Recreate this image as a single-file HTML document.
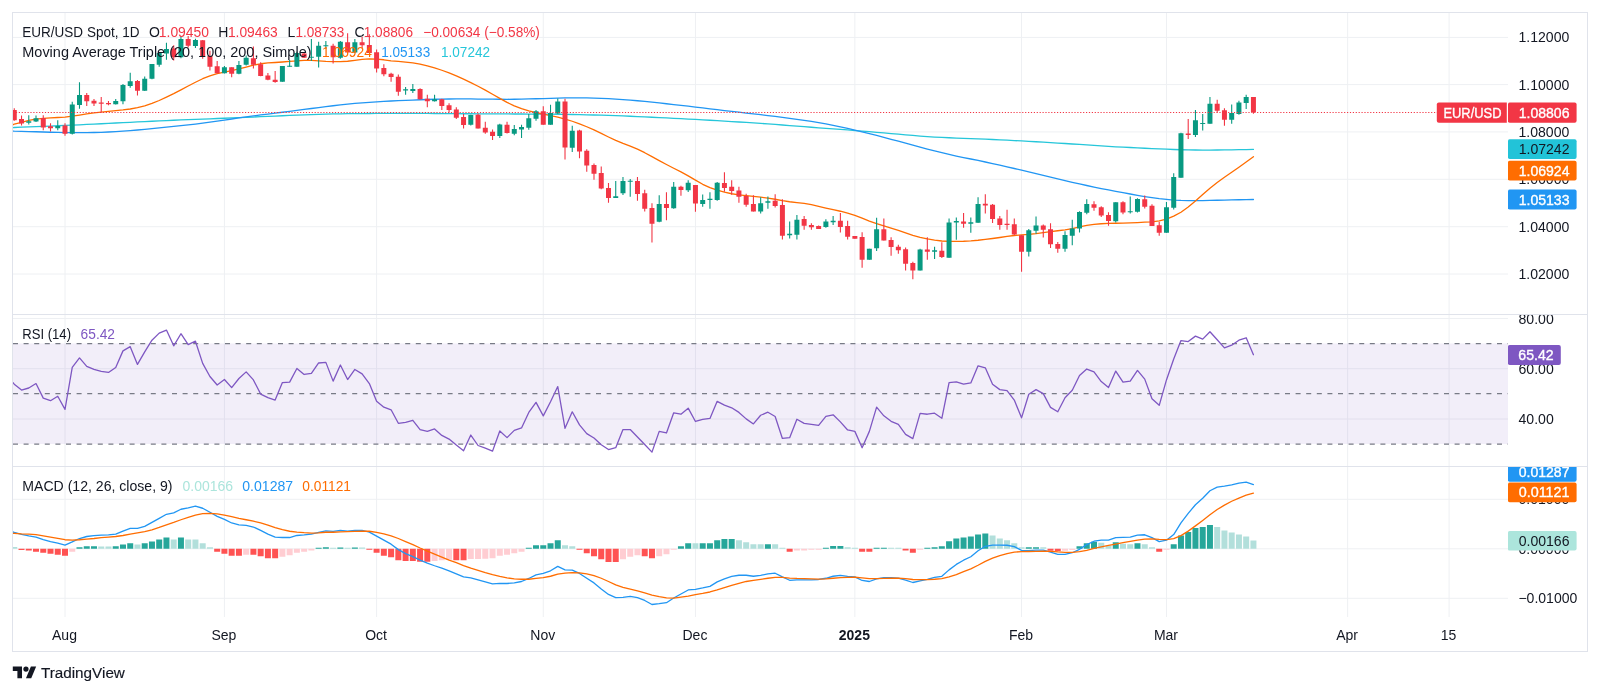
<!DOCTYPE html>
<html lang="en"><head><meta charset="utf-8"><title>EUR/USD Spot chart</title>
<style>
html,body{margin:0;padding:0;background:#fff;}
body{width:1600px;height:694px;overflow:hidden;font-family:"Liberation Sans",sans-serif;}
svg{display:block;will-change:transform;opacity:.9999;}
text{white-space:pre;}
</style></head><body>
<svg width="1600" height="694" viewBox="0 0 1600 694" font-family='"Liberation Sans", sans-serif' font-size="14">
<rect width="1600" height="694" fill="#fff"/>
<defs>
<clipPath id="cm"><rect x="13" y="13" width="1495" height="301.5"/></clipPath>
<clipPath id="cr"><rect x="13" y="315" width="1495" height="151"/></clipPath>
<clipPath id="cd"><rect x="13" y="467" width="1495" height="150"/></clipPath>
<clipPath id="am"><rect x="1508" y="13" width="79.5" height="301.5"/></clipPath>
<clipPath id="ar"><rect x="1508" y="315" width="79.5" height="151.5"/></clipPath>
<clipPath id="ad"><rect x="1508" y="467" width="79.5" height="150"/></clipPath>
</defs>
<path d="M65 13V617M224.42 13V617M376.6 13V617M543.27 13V617M695.45 13V617M854.87 13V617M1021.54 13V617M1166.47 13V617M1347.63 13V617M1449.08 13V617M13 37.4H1508M13 84.6H1508M13 131.9H1508M13 179.3H1508M13 226.7H1508M13 274H1508M13 318.5H1508M13 368.7H1508M13 419H1508M13 499.3H1508M13 548.8H1508M13 598.3H1508" stroke="#eef0f3" stroke-width="1" fill="none"/>
<g clip-path="url(#cm)">
<polyline points="12,127.81 14.27,127.49 21.52,127.21 28.77,126.96 36.01,126.68 43.26,126.37 50.51,126.06 57.75,125.77 65,125.47 72.25,125.16 79.49,124.83 86.74,124.47 93.99,124.11 101.23,123.75 108.48,123.38 115.73,123.02 122.97,122.66 130.22,122.3 137.47,121.93 144.71,121.58 151.96,121.24 159.2,120.9 166.45,120.58 173.7,120.27 180.94,119.97 188.19,119.67 195.44,119.39 202.68,119.1 209.93,118.81 217.18,118.52 224.42,118.23 231.67,117.94 238.92,117.65 246.16,117.35 253.41,117.04 260.66,116.71 267.9,116.39 275.15,116.06 282.39,115.74 289.64,115.41 296.89,115.11 304.13,114.82 311.38,114.56 318.63,114.33 325.87,114.12 333.12,113.95 340.37,113.81 347.61,113.7 354.86,113.62 362.11,113.57 369.35,113.52 376.6,113.46 383.85,113.41 391.09,113.38 398.34,113.36 405.59,113.35 412.83,113.35 420.08,113.38 427.32,113.44 434.57,113.51 441.82,113.57 449.06,113.63 456.31,113.68 463.56,113.73 470.8,113.77 478.05,113.81 485.3,113.84 492.54,113.88 499.79,113.92 507.04,113.95 514.28,113.99 521.53,114.02 528.78,114.06 536.02,114.1 543.27,114.15 550.52,114.2 557.76,114.27 565.01,114.36 572.25,114.48 579.5,114.63 586.75,114.8 593.99,114.98 601.24,115.19 608.49,115.42 615.73,115.67 622.98,115.94 630.23,116.24 637.47,116.55 644.72,116.88 651.97,117.24 659.21,117.6 666.46,117.96 673.71,118.32 680.95,118.69 688.2,119.06 695.45,119.45 702.69,119.85 709.94,120.25 717.19,120.67 724.43,121.1 731.68,121.53 738.92,121.98 746.17,122.44 753.42,122.91 760.66,123.4 767.91,123.91 775.16,124.45 782.4,125 789.65,125.56 796.9,126.12 804.14,126.69 811.39,127.24 818.64,127.79 825.88,128.33 833.13,128.88 840.38,129.42 847.62,129.97 854.87,130.53 862.12,131.1 869.36,131.68 876.61,132.28 883.85,132.91 891.1,133.55 898.35,134.2 905.59,134.83 912.84,135.45 920.09,136.06 927.33,136.59 934.58,137.05 941.83,137.43 949.07,137.77 956.32,138.08 963.57,138.36 970.81,138.62 978.06,138.9 985.31,139.2 992.55,139.52 999.8,139.86 1007.05,140.2 1014.29,140.56 1021.54,140.93 1028.78,141.32 1036.03,141.73 1043.28,142.16 1050.52,142.6 1057.77,143.05 1065.02,143.52 1072.26,143.99 1079.51,144.46 1086.76,144.93 1094,145.4 1101.25,145.88 1108.5,146.36 1115.74,146.84 1122.99,147.17 1130.24,147.52 1137.48,147.89 1144.73,148.26 1151.98,148.6 1159.22,148.9 1166.47,149.15 1173.71,149.48 1180.96,149.74 1188.21,149.91 1195.45,149.99 1202.7,150.04 1209.95,150.05 1217.19,150.02 1224.44,149.95 1231.69,149.85 1238.93,149.72 1246.18,149.56 1253.43,149.39" fill="none" stroke="#26c6da" stroke-width="1.3" stroke-linejoin="round" stroke-linecap="round"/>
<polyline points="12,131.07 14.27,131.2 21.52,131.35 28.77,131.54 36.01,131.77 43.26,132.02 50.51,132.24 57.75,132.43 65,132.58 72.25,132.66 79.49,132.68 86.74,132.63 93.99,132.5 101.23,132.28 108.48,131.99 115.73,131.63 122.97,131.17 130.22,130.63 137.47,130 144.71,129.33 151.96,128.64 159.2,127.93 166.45,127.2 173.7,126.45 180.94,125.67 188.19,124.88 195.44,124.03 202.68,123.11 209.93,122.14 217.18,121.11 224.42,120.07 231.67,119.01 238.92,117.92 246.16,116.89 253.41,115.9 260.66,114.97 267.9,114.06 275.15,113.15 282.39,112.25 289.64,111.34 296.89,110.41 304.13,109.47 311.38,108.5 318.63,107.54 325.87,106.63 333.12,105.76 340.37,104.93 347.61,104.16 354.86,103.45 362.11,102.84 369.35,102.3 376.6,101.81 383.85,101.38 391.09,101 398.34,100.66 405.59,100.33 412.83,100.03 420.08,99.74 427.32,99.49 434.57,99.27 441.82,99.12 449.06,99.01 456.31,98.95 463.56,98.94 470.8,98.96 478.05,99.03 485.3,99.1 492.54,99.17 499.79,99.24 507.04,99.28 514.28,99.25 521.53,99.14 528.78,98.97 536.02,98.77 543.27,98.55 550.52,98.3 557.76,98.09 565.01,97.95 572.25,97.88 579.5,97.88 586.75,97.96 593.99,98.11 601.24,98.33 608.49,98.64 615.73,99.04 622.98,99.54 630.23,100.13 637.47,100.76 644.72,101.45 651.97,102.19 659.21,102.96 666.46,103.74 673.71,104.53 680.95,105.33 688.2,106.17 695.45,107.03 702.69,107.93 709.94,108.82 717.19,109.69 724.43,110.54 731.68,111.37 738.92,112.21 746.17,113.04 753.42,113.88 760.66,114.71 767.91,115.54 775.16,116.42 782.4,117.34 789.65,118.29 796.9,119.27 804.14,120.3 811.39,121.41 818.64,122.6 825.88,123.9 833.13,125.31 840.38,126.82 847.62,128.41 854.87,130.08 862.12,131.82 869.36,133.64 876.61,135.48 883.85,137.36 891.1,139.27 898.35,141.2 905.59,143.15 912.84,145.13 920.09,147.11 927.33,149.03 934.58,150.89 941.83,152.68 949.07,154.39 956.32,156.01 963.57,157.53 970.81,158.99 978.06,160.48 985.31,162 992.55,163.55 999.8,165.15 1007.05,166.8 1014.29,168.5 1021.54,170.24 1028.78,171.98 1036.03,173.72 1043.28,175.46 1050.52,177.19 1057.77,178.91 1065.02,180.62 1072.26,182.3 1079.51,183.93 1086.76,185.51 1094,187.03 1101.25,188.52 1108.5,189.96 1115.74,191.35 1122.99,192.69 1130.24,194 1137.48,195.31 1144.73,196.56 1151.98,197.68 1159.22,198.65 1166.47,199.43 1173.71,200.05 1180.96,200.46 1188.21,200.64 1195.45,200.63 1202.7,200.54 1209.95,200.4 1217.19,200.24 1224.44,200.06 1231.69,199.89 1238.93,199.75 1246.18,199.61 1253.43,199.48" fill="none" stroke="#2196f3" stroke-width="1.3" stroke-linejoin="round" stroke-linecap="round"/>
<polyline points="12,125.3 14.27,124.01 21.52,122.34 28.77,120.39 36.01,119.15 43.26,118.28 50.51,117.81 57.75,117.52 65,117.07 72.25,116.2 79.49,115.05 86.74,113.88 93.99,112.89 101.23,112.03 108.48,111.29 115.73,110.63 122.97,109.9 130.22,109 137.47,107.68 144.71,105.92 151.96,103.45 159.2,100.52 166.45,97.12 173.7,93.6 180.94,89.85 188.19,85.98 195.44,82.23 202.68,78.72 209.93,75.85 217.18,73.64 224.42,72.09 231.67,70.68 238.92,68.99 246.16,67.05 253.41,65.13 260.66,63.77 267.9,62.93 275.15,62.49 282.39,62.01 289.64,61.43 296.89,60.86 304.13,60.42 311.38,60.46 318.63,60.81 325.87,61.35 333.12,61.68 340.37,61.72 347.61,61.24 354.86,60.41 362.11,59.42 369.35,58.91 376.6,59.05 383.85,59.77 391.09,60.78 398.34,61.46 405.59,62.06 412.83,62.8 420.08,64.09 427.32,65.86 434.57,67.92 441.82,70.25 449.06,72.92 456.31,75.92 463.56,79.21 470.8,82.61 478.05,86.22 485.3,90.11 492.54,94.26 499.79,98.42 507.04,102.41 514.28,105.81 521.53,108.64 528.78,110.85 536.02,112.67 543.27,114.23 550.52,115.68 557.76,117.21 565.01,119.03 572.25,121.25 579.5,123.86 586.75,126.75 593.99,129.85 601.24,133.34 608.49,136.98 615.73,140.44 622.98,143.45 630.23,146.12 637.47,149.18 644.72,152.7 651.97,156.65 659.21,160.6 666.46,164.52 673.71,168.29 680.95,171.88 688.2,175.83 695.45,180.13 702.69,184.29 709.94,187.61 717.19,190.15 724.43,192.18 731.68,193.74 738.92,194.82 746.17,195.68 753.42,196.41 760.66,197.19 767.91,198.07 775.16,199.25 782.4,200.67 789.65,201.76 796.9,202.58 804.14,203.35 811.39,204.66 818.64,206.33 825.88,208.03 833.13,209.66 840.38,211.24 847.62,213.03 854.87,215.4 862.12,218.14 869.36,221.03 876.61,223.6 883.85,225.94 891.1,228.14 898.35,230.4 905.59,232.91 912.84,235.34 920.09,237.45 927.33,238.98 934.58,240.19 941.83,241.01 949.07,241.45 956.32,241.46 963.57,241.24 970.81,240.86 978.06,240.25 985.31,239.44 992.55,238.49 999.8,237.51 1007.05,236.41 1014.29,235.49 1021.54,234.86 1028.78,234.33 1036.03,233.58 1043.28,232.57 1050.52,231.61 1057.77,230.75 1065.02,229.78 1072.26,228.58 1079.51,226.99 1086.76,225.45 1094,224.32 1101.25,223.73 1108.5,223.44 1115.74,223.24 1122.99,223.09 1130.24,222.82 1137.48,222.55 1144.73,222.13 1151.98,221.82 1159.22,220.79 1166.47,219.06 1173.71,216.12 1180.96,212.22 1188.21,207.04 1195.45,200.98 1202.7,194.49 1209.95,188.19 1217.19,182.49 1224.44,177.29 1231.69,172.32 1238.93,167.19 1246.18,161.94 1253.43,156.71" fill="none" stroke="#ff6d00" stroke-width="1.3" stroke-linejoin="round" stroke-linecap="round"/>
<path d="M28.77 115.26V124.61M36.01 115.58V121.92M57.75 120.33V130.32M72.25 101.79V134.6M79.49 82.3V108.76M115.73 98.94V104.48M122.97 83.88V104.17M130.22 72.79V87.84M144.71 76.43V91.01M151.96 64.07V79.13M159.2 52.15V66.67M166.45 42.79V59.83M180.94 36.7V58.24M195.44 38.86V47.94M224.42 66.01V73.5M238.92 61.05V74.16M246.16 55.43V65.45M282.39 66.01V81.84M289.64 60.11V66.67M296.89 51.69V66.67M311.38 39.04V61.05M318.63 41.85V67.6M325.87 41.1V48.88M340.37 40.92V58.71M354.86 39.04V52.9M405.59 86.94V94.87M412.83 84.09V92.96M434.57 94.87V101.52M470.8 114.68V125.45M499.79 123.87V137.97M514.28 124.98V135.28M521.53 124.66V137.97M528.78 113.88V129.73M536.02 109.92V120.7M550.52 104.69V124.66M557.76 98.51V113.88M572.25 125.77V151.92M615.73 180.96V197.92M622.98 177V194.9M630.23 179.06V196.81M659.21 195.22V222.16M673.71 182.07V208.69M688.2 180.17V192.05M702.69 194.43V206.63M709.94 192.37V208.69M717.19 182.07V200.77M760.66 197.28V213.45M767.91 196.49V208.69M789.65 221.43V238.39M796.9 214.94V239.5M825.88 219.37V227.77M833.13 215.89V224.92M869.36 248.69V259.79M876.61 217.79V251.07M920.09 248.69V270.56M934.58 246.63V258.99M949.07 218.58V257.73M956.32 217.47V239.66M970.81 217.47V232.84M978.06 197.19V222.86M1028.78 228.88V256.62M1036.03 216.52V233.64M1065.02 231.26V251.86M1072.26 219.69V245.21M1079.51 211.13V232.53M1086.76 199.25V214.3M1115.74 202.26V222.54M1130.24 196.39V213.51M1137.48 198.3V212.56M1166.47 202.06V232.78M1173.71 173.3V209.62M1180.96 132.63V177.79M1195.45 110.04V137M1202.7 114.01V130.44M1209.95 96.91V123.73M1231.69 104.57V123.73M1238.93 100.74V114.83M1246.18 94.85V108.95" stroke="#089981" stroke-width="1.1" fill="none"/>
<path d="M26.27 121.13h5v1.58h-5zM33.51 118.27h5v3.33h-5zM55.25 125.88h5v2.38h-5zM69.75 104.48h5v29.32h-5zM76.99 94.98h5v9.98h-5zM113.23 101h5v3.17h-5zM120.47 84.99h5v16.32h-5zM127.72 81.19h5v4.75h-5zM142.21 78.65h5v12.04h-5zM149.46 64.07h5v14.74h-5zM156.7 53.09h5v11.7h-5zM163.95 48.88h5v4.68h-5zM178.44 39.04h5v18.26h-5zM192.94 39.98h5v6.09h-5zM221.92 67.13h5v6.09h-5zM236.42 65.07h5v8.8h-5zM243.66 57.77h5v7.02h-5zM279.89 66.01h5v15.82h-5zM287.14 65.73h5v1h-5zM294.39 53.09h5v13.58h-5zM308.88 56.65h5v1.12h-5zM316.13 45.79h5v11.05h-5zM323.37 45.13h5v1.22h-5zM337.87 41.85h5v15.92h-5zM352.36 42.13h5v10.49h-5zM403.09 89.32h5v1.11h-5zM410.33 89h5v1.9h-5zM432.07 99.14h5v2.06h-5zM468.3 114.99h5v9.67h-5zM497.29 124.5h5v11.57h-5zM511.78 128.94h5v4.75h-5zM519.03 126.88h5v2.54h-5zM526.28 118.16h5v9.67h-5zM533.52 111.19h5v7.45h-5zM548.02 113.09h5v11.57h-5zM555.26 101.52h5v12.04h-5zM569.75 130.84h5v16.8h-5zM613.23 196.33h5v1.58h-5zM620.48 180.96h5v12.2h-5zM627.73 180.64h5v1.11h-5zM656.71 203.94h5v17.91h-5zM671.21 186.82h5v21.39h-5zM685.7 182.86h5v7.29h-5zM700.19 199.98h5v3.96h-5zM707.44 198.71h5v1.27h-5zM714.69 182.86h5v17.12h-5zM758.16 203.15h5v8.4h-5zM765.41 201.24h5v1.58h-5zM787.15 233.64h5v1.58h-5zM794.4 219.85h5v14.9h-5zM823.38 221.43h5v5.55h-5zM830.63 220.64h5v1.58h-5zM866.86 248.69h5v11.09h-5zM874.11 229.2h5v19.02h-5zM917.59 249.48h5v21.08h-5zM932.08 250.28h5v1.58h-5zM946.57 222.54h5v35.18h-5zM953.82 220.96h5v1.58h-5zM968.31 222.23h5v1.58h-5zM975.56 204h5v18.86h-5zM1026.28 230.15h5v21.71h-5zM1033.53 225.4h5v5.39h-5zM1062.52 234.9h5v13.79h-5zM1069.76 228.41h5v7.29h-5zM1077.01 211.93h5v16.64h-5zM1084.26 204h5v8.72h-5zM1113.24 202.26h5v19.02h-5zM1127.74 211.13h5v1.11h-5zM1134.98 199.09h5v12.68h-5zM1163.97 207.35h5v25.43h-5zM1171.21 177.08h5v30.57h-5zM1178.46 133.17h5v44.61h-5zM1192.95 120.17h5v14.78h-5zM1200.2 122.91h5v1h-5zM1207.45 103.75h5v19.98h-5zM1229.19 113.06h5v6.57h-5zM1236.43 102.52h5v11.5h-5zM1243.68 97.04h5v6.02h-5z" fill="#089981"/>
<path d="M14.27 108.13V120.65M21.52 115.58V125.4M43.26 115.26V130.16M50.51 123.19V131.43M65 123.19V135.86M86.74 93.07V106.07M93.99 98.94V106.07M101.23 96.88V112.41M108.48 101V105.28M137.47 79.92V95.45M173.7 45.13V60.58M188.19 36.05V47.47M202.68 39.98V58.71M209.93 50.75V70.41M217.18 61.05V73.22M231.67 67.13V77.25M253.41 46.54V68.54M260.66 62.27V76.31M267.9 72.94V80.24M275.15 70.88V82.87M304.13 52.62V57.96M333.12 43.73V63.58M347.61 33.24V52.62M362.11 36.7V47.94M369.35 34.36V53.09M376.6 49.53V72.57M383.85 64.14V76.31M391.09 72.68V81.71M398.34 74.58V95.66M420.08 88.21V99.62M427.32 94.87V107.23M441.82 98.83V109.92M449.06 103.26V112.61M456.31 107.23V118.95M463.56 113.88V128.46M478.05 113.57V128.46M485.3 121.81V133.69M492.54 129.41V140.03M507.04 121.81V133.38M543.27 106.28V124.66M565.01 98.83V159.52M579.5 129.73V158.26M586.75 149.26V171.77M593.99 163.53V179.69M601.24 166.38V189.2M608.49 183.02V202.83M637.47 177V200.77M644.72 189.68V211.55M651.97 203.15V242.45M666.46 192.37V220.26M680.95 185.71V195.7M695.45 184.92V211.86M724.43 172.24V191.74M731.68 180.17V194.75M738.92 186.82V202.83M746.17 193.64V206.79M753.42 195.22V211.55M775.16 194.33V207.49M782.4 199.25V239.5M804.14 215.89V229.68M811.39 223.34V229.68M818.64 225.4V228.88M840.38 213.03V232.53M847.62 220.64V239.5M854.87 236.01V238.71M862.12 232.37V267.71M883.85 218.58V240.45M891.1 237.28V255.82M898.35 244.73V253.76M905.59 247.58V270.56M912.84 261.85V279.28M927.33 237.28V259.79M941.83 242.35V257.88M963.57 213.03V227.77M985.31 194.33V213.51M992.55 204V223.02M999.8 215.89V229.68M1007.05 209.87V229.68M1014.29 218.58V235.22M1021.54 235.22V271.67M1043.28 224.45V237.6M1050.52 223.34V247.9M1057.77 241.88V252.65M1094 201.15V210.66M1101.25 206.22V217M1108.5 212.24V225.71M1122.99 201.15V214.3M1144.73 195.6V208.6M1151.98 204.33V225.97M1159.22 221.73V235.81M1188.21 118.94V139.06M1217.19 99.78V112.78M1224.44 108.27V125.65M1253.43 97.04V113.74" stroke="#f23645" stroke-width="1.1" fill="none"/>
<path d="M11.77 110.03h5v10.3h-5zM19.02 119.06h5v4.44h-5zM40.76 117.96h5v9.51h-5zM48.01 126.2h5v2.06h-5zM62.5 125.56h5v8.24h-5zM84.24 94.98h5v6.34h-5zM91.49 100.84h5v2.54h-5zM98.73 102.42h5v1.27h-5zM105.98 102.9h5v1.27h-5zM134.97 81.03h5v9.67h-5zM171.2 48.41h5v8.9h-5zM185.69 39.04h5v6.74h-5zM200.18 40.17h5v15.73h-5zM207.43 55.9h5v10.77h-5zM214.68 66.2h5v7.02h-5zM229.17 67.13h5v6.74h-5zM250.91 58.24h5v6.55h-5zM258.16 64.14h5v11.89h-5zM265.4 75.56h5v4.21h-5zM272.65 79.78h5v2.15h-5zM301.63 53.56h5v4.21h-5zM330.62 45.79h5v11.52h-5zM345.11 42.32h5v10.3h-5zM359.61 42.32h5v2.81h-5zM366.85 44.94h5v8.15h-5zM374.1 52.34h5v16.2h-5zM381.35 68.07h5v6.09h-5zM388.59 73.79h5v3.17h-5zM395.84 76.64h5v15.06h-5zM417.58 89h5v10.3h-5zM424.82 98.83h5v2.38h-5zM439.32 99.14h5v6.81h-5zM446.56 105.17h5v4.75h-5zM453.81 109.45h5v8.4h-5zM461.06 117.05h5v7.92h-5zM475.55 114.68h5v13.79h-5zM482.8 127.83h5v4.6h-5zM490.04 131.63h5v4.44h-5zM504.54 124.66h5v8.24h-5zM540.77 111.19h5v13.47h-5zM562.51 101.52h5v45.96h-5zM577 130.52h5v21.08h-5zM584.25 150.85h5v14.74h-5zM591.49 165.11h5v8.72h-5zM598.74 173.03h5v15.37h-5zM605.99 188.09h5v9.83h-5zM634.97 180.96h5v13h-5zM642.22 193.32h5v15.37h-5zM649.47 207.9h5v15.85h-5zM663.96 203.94h5v3.96h-5zM678.45 186.82h5v3.17h-5zM692.95 184.92h5v18.7h-5zM721.93 183.02h5v5.07h-5zM729.18 186.82h5v4.12h-5zM736.42 190.47h5v6.34h-5zM743.67 196.01h5v8.72h-5zM750.92 203.94h5v7.61h-5zM772.66 200.83h5v5.07h-5zM779.9 205.11h5v30.59h-5zM801.64 218.9h5v6.81h-5zM808.89 224.92h5v2.38h-5zM816.14 226.03h5v2.85h-5zM837.88 220.64h5v6.34h-5zM845.12 226.03h5v10.78h-5zM852.37 236.01h5v2.69h-5zM859.62 237.12h5v22.66h-5zM881.35 229.2h5v11.25h-5zM888.6 239.98h5v7.13h-5zM895.85 246.79h5v3.49h-5zM903.09 249.17h5v14.58h-5zM910.34 262.96h5v7.61h-5zM924.83 249.48h5v2.38h-5zM939.33 250.75h5v6.34h-5zM961.07 221.43h5v2.38h-5zM982.81 203.84h5v1.74h-5zM990.05 204.79h5v14.26h-5zM997.3 218.58h5v6.34h-5zM1004.55 223.81h5v1.11h-5zM1011.79 224.13h5v10.3h-5zM1019.04 235.22h5v16.64h-5zM1040.78 225.4h5v4.28h-5zM1048.02 229.2h5v15.06h-5zM1055.27 243.94h5v4.75h-5zM1091.5 204.32h5v3.49h-5zM1098.75 207.17h5v8.24h-5zM1106 215.1h5v5.86h-5zM1120.49 202.26h5v10.3h-5zM1142.23 199.25h5v7.45h-5zM1149.48 205.84h5v20.13h-5zM1156.72 225.21h5v7.57h-5zM1185.71 133.58h5v1.37h-5zM1214.69 103.75h5v6.98h-5zM1221.94 110.32h5v9.31h-5zM1250.93 97.04h5v15.33h-5z" fill="#f23645"/>
<path d="M13 112.5H1437" stroke="#f23645" stroke-width="1" stroke-dasharray="1.2 1.7" fill="none"/>
</g>
<g clip-path="url(#cr)">
<rect x="13" y="343.5" width="1495" height="100.5" fill="#7e57c2" fill-opacity="0.1"/>
<path d="M13 343.5H1508" stroke="#787b86" stroke-width="1.25" stroke-dasharray="5 5.6" fill="none"/>
<path d="M13 393.7H1508" stroke="#787b86" stroke-width="1.25" stroke-dasharray="5 5.6" fill="none"/>
<path d="M13 444H1508" stroke="#787b86" stroke-width="1.25" stroke-dasharray="5 5.6" fill="none"/>
<polyline points="7.03,375.49 14.27,384.16 21.52,390.02 28.77,388 36.01,383.56 43.26,398.09 50.51,400.71 57.75,396.27 65,409.39 72.25,367.42 79.49,357.93 86.74,366.41 93.99,369.44 101.23,371.45 108.48,372.46 115.73,367.42 122.97,350.87 130.22,346.63 137.47,364.39 144.71,351.88 151.96,340.18 159.2,333.12 166.45,330.09 173.7,345.83 180.94,333.72 188.19,344.62 195.44,341.19 202.68,363.38 209.93,376.5 217.18,384.97 224.42,379.52 231.67,387.59 238.92,378.51 246.16,371.86 253.41,379.93 260.66,394.05 267.9,397.68 275.15,400.1 282.39,382.55 289.64,382.15 296.89,368.43 304.13,374.48 311.38,373.47 318.63,362.98 325.87,362.37 333.12,381.14 340.37,365 347.61,379.52 354.86,369.44 362.11,373.87 369.35,383.56 376.6,401.32 383.85,407.17 391.09,409.79 398.34,423.31 405.59,422.3 412.83,420.28 420.08,429.56 427.32,431.38 434.57,428.96 441.82,435.42 449.06,439.05 456.31,445.1 463.56,450.75 470.8,435.01 478.05,445.5 485.3,448.13 492.54,451.15 499.79,430.98 507.04,437.64 514.28,430.37 521.53,427.95 528.78,412.41 536.02,402.32 543.27,415.84 550.52,401.72 557.76,386.59 565.01,428.35 572.25,411.81 579.5,424.92 586.75,433.6 593.99,438.04 601.24,444.7 608.49,449.54 615.73,447.72 622.98,429.56 630.23,429.56 637.47,437.03 644.72,444.5 651.97,452.16 659.21,431.38 666.46,432.99 673.71,412.82 680.95,414.23 688.2,408.18 695.45,421.49 702.69,419.48 709.94,418.47 717.19,401.32 724.43,405.15 731.68,407.77 738.92,412.41 746.17,418.87 753.42,423.91 760.66,415.24 767.91,412.21 775.16,416.45 782.4,438.44 789.65,437.64 796.9,419.27 804.14,423.31 811.39,424.32 818.64,425.33 825.88,416.45 833.13,414.83 840.38,421.9 847.62,429.97 854.87,431.38 862.12,447.72 869.36,431.38 876.61,407.17 883.85,415.84 891.1,421.29 898.35,424.32 905.59,434.41 912.84,438.64 920.09,413.42 927.33,414.23 934.58,413.22 941.83,418.26 949.07,382.55 956.32,381.95 963.57,384.16 970.81,382.95 978.06,365.8 985.31,367.82 992.55,384.16 999.8,389.61 1007.05,390.62 1014.29,400.1 1021.54,417.86 1028.78,394.25 1036.03,389.61 1043.28,393.65 1050.52,407.37 1057.77,411.81 1065.02,397.68 1072.26,390.22 1079.51,375.49 1086.76,369.03 1094,371.86 1101.25,381.54 1108.5,387.59 1115.74,371.05 1122.99,382.15 1130.24,381.14 1137.48,370.44 1144.73,379.12 1151.98,398.69 1159.22,405.35 1166.47,379.93 1173.71,358.94 1180.96,340.58 1188.21,341.59 1195.45,336.14 1202.7,339.17 1209.95,331.7 1217.19,339.77 1224.44,347.85 1231.69,345.22 1238.93,340.18 1246.18,337.76 1253.43,354.71" fill="none" stroke="#7e57c2" stroke-width="1.3" stroke-linejoin="round" stroke-linecap="round"/>
</g>
<g clip-path="url(#cd)">
<path d="M76.49 547.19h6v1.61h-6zM83.74 546.18h6v2.62h-6zM90.99 546.18h6v2.62h-6zM112.73 546.18h6v2.62h-6zM119.97 544.57h6v4.23h-6zM127.22 543.16h6v5.64h-6zM141.71 543.16h6v5.64h-6zM148.96 541.54h6v7.26h-6zM156.2 539.52h6v9.28h-6zM163.45 537.51h6v11.29h-6zM177.94 537.51h6v11.29h-6zM315.63 547.8h6v1h-6zM322.87 547.19h6v1.61h-6zM337.37 547.39h6v1.41h-6zM351.86 547.39h6v1.41h-6zM525.78 547.8h6v1h-6zM533.02 545.17h6v3.63h-6zM540.27 545.17h6v3.63h-6zM547.52 543.16h6v5.64h-6zM554.76 540.13h6v8.67h-6zM677.95 546.18h6v2.62h-6zM685.2 543.16h6v5.64h-6zM699.69 543.16h6v5.64h-6zM706.94 543.16h6v5.64h-6zM714.19 540.13h6v8.67h-6zM721.43 539.12h6v9.68h-6zM728.68 539.12h6v9.68h-6zM764.91 544.16h6v4.64h-6zM822.88 547.8h6v1h-6zM830.13 545.98h6v2.82h-6zM837.38 545.98h6v2.82h-6zM873.61 547.8h6v1h-6zM880.85 547.8h6v1h-6zM924.33 547.8h6v1h-6zM931.58 547.19h6v1.61h-6zM938.83 546.27h6v2.53h-6zM946.07 541.23h6v7.57h-6zM953.32 538.6h6v10.2h-6zM960.57 537.59h6v11.21h-6zM967.81 536.59h6v12.21h-6zM975.06 534.57h6v14.23h-6zM982.31 533.56h6v15.24h-6zM1025.78 547.28h6v1.52h-6zM1033.03 547.28h6v1.52h-6zM1076.51 546.27h6v2.53h-6zM1083.76 543.24h6v5.56h-6zM1091 541.63h6v7.17h-6zM1112.74 542.24h6v6.56h-6zM1134.48 543.24h6v5.56h-6zM1170.71 544.25h6v4.55h-6zM1177.96 535.58h6v13.22h-6zM1185.21 531.95h6v16.85h-6zM1192.45 528.11h6v20.69h-6zM1199.7 527.1h6v21.7h-6zM1206.95 525.08h6v23.72h-6z" fill="#26a69a"/>
<path d="M11.27 546.99h6v1.81h-6zM98.23 546.59h6v2.21h-6zM105.48 546.59h6v2.21h-6zM134.47 544.57h6v4.23h-6zM170.7 539.52h6v9.28h-6zM185.19 539.52h6v9.28h-6zM192.44 539.52h6v9.28h-6zM199.68 543.16h6v5.64h-6zM206.93 547.19h6v1.61h-6zM330.12 547.8h6v1h-6zM344.61 547.8h6v1h-6zM359.11 547.39h6v1.41h-6zM562.01 545.17h6v3.63h-6zM569.25 546.18h6v2.62h-6zM692.45 543.16h6v5.64h-6zM735.92 540.13h6v8.67h-6zM743.17 542.15h6v6.65h-6zM750.42 544.16h6v4.64h-6zM757.66 544.16h6v4.64h-6zM772.16 544.16h6v4.64h-6zM779.4 547.8h6v1h-6zM844.62 547.19h6v1.61h-6zM851.87 547.8h6v1h-6zM888.1 547.8h6v1h-6zM895.35 547.8h6v1h-6zM989.55 535.58h6v13.22h-6zM996.8 538.6h6v10.2h-6zM1004.05 540.22h6v8.58h-6zM1011.29 543.24h6v5.56h-6zM1018.54 547.28h6v1.52h-6zM1040.28 547.28h6v1.52h-6zM1098.25 542.64h6v6.16h-6zM1105.5 545.67h6v3.13h-6zM1119.99 543.65h6v5.15h-6zM1127.24 544.25h6v4.55h-6zM1141.73 544.25h6v4.55h-6zM1148.98 547.28h6v1.52h-6zM1214.19 527.1h6v21.7h-6zM1221.44 530.53h6v18.27h-6zM1228.69 532.55h6v16.25h-6zM1235.93 534.57h6v14.23h-6zM1243.18 536.59h6v12.21h-6zM1250.43 540.42h6v8.38h-6z" fill="#b2dfdb"/>
<path d="M18.52 548.8h6v1.22h-6zM25.77 548.8h6v1.82h-6zM33.01 548.8h6v2.83h-6zM40.26 548.8h6v3.84h-6zM47.51 548.8h6v4.85h-6zM54.75 548.8h6v5.86h-6zM62 548.8h6v6.87h-6zM214.18 548.8h6v2.83h-6zM221.42 548.8h6v4.85h-6zM228.67 548.8h6v6.87h-6zM235.92 548.8h6v6.87h-6zM250.41 548.8h6v5.86h-6zM257.66 548.8h6v7.47h-6zM264.9 548.8h6v9.49h-6zM272.15 548.8h6v9.49h-6zM366.35 548.8h6v1.01h-6zM373.6 548.8h6v3.84h-6zM380.85 548.8h6v6.87h-6zM388.09 548.8h6v8.48h-6zM395.34 548.8h6v11.51h-6zM402.59 548.8h6v12.31h-6zM409.83 548.8h6v12.31h-6zM417.08 548.8h6v12.92h-6zM424.32 548.8h6v12.92h-6zM453.31 548.8h6v11.51h-6zM460.56 548.8h6v11.51h-6zM576.5 548.8h6v1.01h-6zM583.75 548.8h6v4.44h-6zM590.99 548.8h6v7.47h-6zM598.24 548.8h6v10.5h-6zM605.49 548.8h6v13.32h-6zM612.73 548.8h6v13.32h-6zM641.72 548.8h6v7.47h-6zM648.97 548.8h6v9.49h-6zM786.65 548.8h6v2.83h-6zM859.12 548.8h6v2.83h-6zM866.36 548.8h6v2.83h-6zM902.59 548.8h6v1.82h-6zM909.84 548.8h6v3.84h-6zM1047.52 548.8h6v1.91h-6zM1054.77 548.8h6v2.52h-6zM1156.22 548.8h6v2.92h-6z" fill="#ff5252"/>
<path d="M69.25 548.8h6v2.83h-6zM243.16 548.8h6v5.86h-6zM279.39 548.8h6v7.87h-6zM286.64 548.8h6v6.46h-6zM293.89 548.8h6v3.84h-6zM301.13 548.8h6v2.83h-6zM308.38 548.8h6v1.82h-6zM431.57 548.8h6v12.31h-6zM438.82 548.8h6v11.51h-6zM446.06 548.8h6v10.9h-6zM467.8 548.8h6v10.3h-6zM475.05 548.8h6v10.3h-6zM482.3 548.8h6v9.89h-6zM489.54 548.8h6v9.49h-6zM496.79 548.8h6v6.87h-6zM504.04 548.8h6v5.86h-6zM511.28 548.8h6v4.44h-6zM518.53 548.8h6v2.83h-6zM619.98 548.8h6v10.5h-6zM627.23 548.8h6v7.87h-6zM634.47 548.8h6v6.46h-6zM656.21 548.8h6v7.47h-6zM663.46 548.8h6v5.45h-6zM670.71 548.8h6v1h-6zM793.9 548.8h6v1.82h-6zM801.14 548.8h6v1.82h-6zM808.39 548.8h6v1.01h-6zM815.64 548.8h6v1.01h-6zM917.09 548.8h6v1.01h-6zM1062.02 548.8h6v1.91h-6zM1069.26 548.8h6v1.1h-6zM1163.47 548.8h6v1h-6z" fill="#ffcdd2"/>
<polyline points="7.03,529.84 14.27,532.46 21.52,534.48 28.77,535.89 36.01,537.1 43.26,539.52 50.51,541.54 57.75,543.16 65,545.17 72.25,541.95 79.49,538.51 86.74,536.5 93.99,535.69 101.23,535.08 108.48,534.88 115.73,534.08 122.97,531.05 130.22,528.43 137.47,528.43 144.71,526.41 151.96,522.37 159.2,518.34 166.45,514.3 173.7,512.89 180.94,509.26 188.19,507.85 195.44,506.23 202.68,508.25 209.93,512.28 217.18,516.32 224.42,519.35 231.67,522.98 238.92,524.79 246.16,525.4 253.41,527.01 260.66,530.44 267.9,534.08 275.15,537.1 282.39,537.51 289.64,537.51 296.89,535.49 304.13,534.88 311.38,534.08 318.63,532.46 325.87,530.85 333.12,531.45 340.37,530.44 347.61,531.05 354.86,530.44 362.11,530.44 369.35,532.06 376.6,536.09 383.85,540.13 391.09,544.16 398.34,549.61 405.59,553.65 412.83,556.67 420.08,560.1 427.32,563.13 434.57,565.75 441.82,568.18 449.06,570.8 456.31,573.83 463.56,576.85 470.8,577.86 478.05,579.88 485.3,581.9 492.54,583.91 499.79,583.31 507.04,583.51 514.28,582.91 521.53,581.49 528.78,578.47 536.02,574.83 543.27,573.42 550.52,570.8 557.76,566.36 565.01,569.79 572.25,570.19 579.5,573.42 586.75,578.26 593.99,582.91 601.24,588.96 608.49,594.41 615.73,597.64 622.98,597.43 630.23,596.42 637.47,597.64 644.72,600.46 651.97,604.5 659.21,603.69 666.46,602.68 673.71,598.04 680.95,594 688.2,589.97 695.45,589.36 702.69,587.95 709.94,586.34 717.19,581.9 724.43,578.87 731.68,576.45 738.92,575.24 746.17,575.24 753.42,576.25 760.66,575.44 767.91,573.83 775.16,573.22 782.4,576.85 789.65,580.28 796.9,579.88 804.14,579.88 811.39,579.88 818.64,579.48 825.88,578.26 833.13,576.25 840.38,575.44 847.62,576.45 854.87,576.85 862.12,580.48 869.36,581.49 876.61,578.87 883.85,577.66 891.1,577.66 898.35,578.06 905.59,580.08 912.84,582.5 920.09,580.89 927.33,579.27 934.58,577.46 941.83,576.34 949.07,569.88 956.32,564.43 963.57,560.19 970.81,556.76 978.06,550.71 985.31,546.27 992.55,545.06 999.8,545.06 1007.05,545.26 1014.29,546.67 1021.54,550.31 1028.78,550.71 1036.03,550.1 1043.28,550.1 1050.52,552.12 1057.77,554.34 1065.02,554.34 1072.26,552.73 1079.51,549.3 1086.76,544.66 1094,541.23 1101.25,540.22 1108.5,540.22 1115.74,537.59 1122.99,537.39 1130.24,537.19 1137.48,535.17 1144.73,534.77 1151.98,537.59 1159.22,541.63 1166.47,540.22 1173.71,534.57 1180.96,522.87 1188.21,513.38 1195.45,504.71 1202.7,498.25 1209.95,490.78 1217.19,487.15 1224.44,486.14 1231.69,484.93 1238.93,483.12 1246.18,482.11 1253.43,484.53" fill="none" stroke="#2196f3" stroke-width="1.3" stroke-linejoin="round" stroke-linecap="round"/>
<polyline points="7.03,533.07 14.27,533.47 21.52,533.87 28.77,534.08 36.01,534.68 43.26,535.89 50.51,537.1 57.75,538.31 65,539.73 72.25,540.13 79.49,539.73 86.74,539.12 93.99,538.51 101.23,537.71 108.48,537.1 115.73,536.5 122.97,535.49 130.22,534.08 137.47,532.87 144.71,531.65 151.96,529.84 159.2,527.42 166.45,524.79 173.7,522.37 180.94,519.75 188.19,517.33 195.44,515.11 202.68,513.7 209.93,513.29 217.18,513.9 224.42,515.11 231.67,516.72 238.92,518.34 246.16,519.75 253.41,521.16 260.66,522.98 267.9,525.2 275.15,527.62 282.39,529.64 289.64,531.25 296.89,532.06 304.13,532.66 311.38,533.07 318.63,532.87 325.87,532.26 333.12,532.26 340.37,531.86 347.61,531.65 354.86,531.45 362.11,531.25 369.35,531.25 376.6,532.46 383.85,533.87 391.09,535.89 398.34,538.51 405.59,541.54 412.83,544.57 420.08,548 427.32,551.03 434.57,554.05 441.82,557.08 449.06,560.1 456.31,562.73 463.56,565.55 470.8,568.18 478.05,570.4 485.3,572.62 492.54,574.63 499.79,576.45 507.04,577.86 514.28,578.87 521.53,579.27 528.78,579.27 536.02,578.47 543.27,577.66 550.52,576.25 557.76,574.23 565.01,573.22 572.25,572.62 579.5,572.82 586.75,573.83 593.99,575.64 601.24,578.26 608.49,581.49 615.73,584.92 622.98,587.34 630.23,589.16 637.47,590.98 644.72,592.99 651.97,595.01 659.21,596.63 666.46,597.84 673.71,598.04 680.95,597.03 688.2,596.02 695.45,594.61 702.69,593.4 709.94,591.99 717.19,589.97 724.43,587.55 731.68,585.33 738.92,583.31 746.17,581.49 753.42,580.28 760.66,579.27 767.91,578.26 775.16,577.46 782.4,577.46 789.65,578.06 796.9,578.47 804.14,578.67 811.39,578.87 818.64,579.07 825.88,578.87 833.13,578.26 840.38,577.66 847.62,577.46 854.87,577.26 862.12,577.86 869.36,578.67 876.61,578.67 883.85,578.47 891.1,578.26 898.35,578.26 905.59,578.67 912.84,579.48 920.09,579.68 927.33,579.68 934.58,579.27 941.83,578.56 949.07,576.94 956.32,574.52 963.57,571.69 970.81,568.87 978.06,565.24 985.31,561.4 992.55,558.18 999.8,555.55 1007.05,553.54 1014.29,552.12 1021.54,551.72 1028.78,551.52 1036.03,551.32 1043.28,551.11 1050.52,551.32 1057.77,551.92 1065.02,552.32 1072.26,552.32 1079.51,551.72 1086.76,550.31 1094,548.49 1101.25,546.88 1108.5,545.46 1115.74,544.05 1122.99,542.64 1130.24,541.43 1137.48,540.22 1144.73,539.21 1151.98,538.81 1159.22,539.41 1166.47,539.61 1173.71,538.6 1180.96,535.58 1188.21,531.14 1195.45,525.89 1202.7,520.44 1209.95,514.79 1217.19,509.55 1224.44,505.11 1231.69,501.28 1238.93,498.05 1246.18,495.22 1253.43,493.2" fill="none" stroke="#ff6d00" stroke-width="1.3" stroke-linejoin="round" stroke-linecap="round"/>
</g>
<path d="M13 314.5H1587.5M13 466.5H1587.5" stroke="#e0e3eb" stroke-width="1" fill="none"/>
<rect x="12.5" y="12.5" width="1575" height="639" fill="none" stroke="#e0e3eb" stroke-width="1"/>
<text x="22.3" y="36.6" fill="#131722" textLength="117.2" lengthAdjust="spacingAndGlyphs">EUR/USD Spot, 1D</text>
<text x="149" y="36.6" fill="#131722">O</text>
<text x="158.8" y="36.6" fill="#f23645" textLength="50.2" lengthAdjust="spacingAndGlyphs">1.09450</text>
<text x="218.3" y="36.6" fill="#131722">H</text>
<text x="227.9" y="36.6" fill="#f23645" textLength="49.9" lengthAdjust="spacingAndGlyphs">1.09463</text>
<text x="287.4" y="36.6" fill="#131722">L</text>
<text x="295.4" y="36.6" fill="#f23645" textLength="49" lengthAdjust="spacingAndGlyphs">1.08733</text>
<text x="354.4" y="36.6" fill="#131722">C</text>
<text x="363.7" y="36.6" fill="#f23645" textLength="49.3" lengthAdjust="spacingAndGlyphs">1.08806</text>
<text x="423.2" y="36.6" fill="#f23645" textLength="116.7" lengthAdjust="spacingAndGlyphs">−0.00634 (−0.58%)</text>
<text x="22.3" y="57.2" fill="#131722" textLength="289.2" lengthAdjust="spacingAndGlyphs">Moving Average Triple (20, 100, 200, Simple)</text>
<text x="322" y="57.2" fill="#ff6d00" textLength="49.9" lengthAdjust="spacingAndGlyphs">1.06924</text>
<text x="381.2" y="57.2" fill="#2196f3" textLength="49" lengthAdjust="spacingAndGlyphs">1.05133</text>
<text x="441" y="57.2" fill="#26c6da" textLength="49" lengthAdjust="spacingAndGlyphs">1.07242</text>
<text x="22.3" y="338.8" fill="#131722" textLength="48.7" lengthAdjust="spacingAndGlyphs">RSI (14)</text>
<text x="80.6" y="338.8" fill="#7e57c2" textLength="34.4" lengthAdjust="spacingAndGlyphs">65.42</text>
<text x="22.3" y="490.7" fill="#131722" textLength="150.2" lengthAdjust="spacingAndGlyphs">MACD (12, 26, close, 9)</text>
<text x="182.5" y="490.7" fill="#ace5dc" textLength="50.5" lengthAdjust="spacingAndGlyphs">0.00166</text>
<text x="242.3" y="490.7" fill="#2196f3" textLength="50.8" lengthAdjust="spacingAndGlyphs">0.01287</text>
<text x="302.3" y="490.7" fill="#ff6d00" textLength="48.7" lengthAdjust="spacingAndGlyphs">0.01121</text>
<g clip-path="url(#am)">
<text x="1518.5" y="42.4" fill="#131722" textLength="50.8" lengthAdjust="spacingAndGlyphs">1.12000</text>
<text x="1518.5" y="89.6" fill="#131722" textLength="50.8" lengthAdjust="spacingAndGlyphs">1.10000</text>
<text x="1518.5" y="136.9" fill="#131722" textLength="50.8" lengthAdjust="spacingAndGlyphs">1.08000</text>
<text x="1518.5" y="184.3" fill="#131722" textLength="50.8" lengthAdjust="spacingAndGlyphs">1.06000</text>
<text x="1518.5" y="231.7" fill="#131722" textLength="50.8" lengthAdjust="spacingAndGlyphs">1.04000</text>
<text x="1518.5" y="279" fill="#131722" textLength="50.8" lengthAdjust="spacingAndGlyphs">1.02000</text>
<rect x="1507.9" y="139.3" width="68.7" height="19.6" rx="2" fill="#22c3d8"/>
<text x="1518.7" y="154.1" fill="#131722" textLength="50.8" lengthAdjust="spacingAndGlyphs">1.07242</text>
<rect x="1507.9" y="160.8" width="68.7" height="19.7" rx="2" fill="#ff6d00"/>
<text x="1518.7" y="175.65" fill="#fff" textLength="50.8" lengthAdjust="spacingAndGlyphs" stroke="#fff" stroke-width="0.35">1.06924</text>
<rect x="1507.9" y="189.6" width="68.7" height="19.9" rx="2" fill="#2196f3"/>
<text x="1518.7" y="204.55" fill="#fff" textLength="50.8" lengthAdjust="spacingAndGlyphs" stroke="#fff" stroke-width="0.35">1.05133</text>
<rect x="1507.9" y="102.5" width="68.7" height="20.2" rx="2" fill="#f23645"/>
<text x="1518.7" y="117.6" fill="#fff" textLength="50.8" lengthAdjust="spacingAndGlyphs" stroke="#fff" stroke-width="0.35">1.08806</text>
</g>
<path d="M1438.8 102.5H1506.8V122.7H1438.8a2 2 0 0 1 -2 -2V104.5a2 2 0 0 1 2 -2z" fill="#f23645"/>
<text x="1443.4" y="117.6" fill="#fff" textLength="58.1" lengthAdjust="spacingAndGlyphs" stroke="#fff" stroke-width="0.35">EUR/USD</text>
<g clip-path="url(#ar)">
<text x="1518.5" y="323.5" fill="#131722" textLength="35.3" lengthAdjust="spacingAndGlyphs">80.00</text>
<text x="1518.5" y="373.7" fill="#131722" textLength="35.3" lengthAdjust="spacingAndGlyphs">60.00</text>
<text x="1518.5" y="424" fill="#131722" textLength="35.3" lengthAdjust="spacingAndGlyphs">40.00</text>
<rect x="1507.9" y="345" width="52.9" height="20" rx="2" fill="#7e57c2"/>
<text x="1518.3" y="360" fill="#fff" textLength="35.3" lengthAdjust="spacingAndGlyphs" stroke="#fff" stroke-width="0.35">65.42</text>
</g>
<g clip-path="url(#ad)">
<text x="1518.5" y="504.3" fill="#131722" textLength="50.8" lengthAdjust="spacingAndGlyphs">0.01000</text>
<text x="1518.5" y="553.8" fill="#131722" textLength="50.8" lengthAdjust="spacingAndGlyphs">0.00000</text>
<text x="1518.4" y="603.3" fill="#131722" textLength="58.9" lengthAdjust="spacingAndGlyphs">−0.01000</text>
<rect x="1507.9" y="462.3" width="68.7" height="19.5" rx="2" fill="#2196f3"/>
<text x="1518.7" y="477.05" fill="#fff" textLength="50.8" lengthAdjust="spacingAndGlyphs" stroke="#fff" stroke-width="0.35">0.01287</text>
<rect x="1507.9" y="482.6" width="68.7" height="19.7" rx="2" fill="#ff6d00"/>
<text x="1518.7" y="497.45" fill="#fff" textLength="50.8" lengthAdjust="spacingAndGlyphs" stroke="#fff" stroke-width="0.35">0.01121</text>
<rect x="1507.9" y="531" width="68.7" height="19.6" rx="2" fill="#ace5dc"/>
<text x="1518.7" y="545.8" fill="#131722" textLength="50.8" lengthAdjust="spacingAndGlyphs">0.00166</text>
</g>
<text x="64.5" y="639.5" fill="#131722" text-anchor="middle">Aug</text>
<text x="223.92" y="639.5" fill="#131722" text-anchor="middle">Sep</text>
<text x="376.1" y="639.5" fill="#131722" text-anchor="middle">Oct</text>
<text x="542.77" y="639.5" fill="#131722" text-anchor="middle">Nov</text>
<text x="694.95" y="639.5" fill="#131722" text-anchor="middle">Dec</text>
<text x="854.37" y="639.5" fill="#131722" text-anchor="middle" font-weight="bold">2025</text>
<text x="1021.04" y="639.5" fill="#131722" text-anchor="middle">Feb</text>
<text x="1165.97" y="639.5" fill="#131722" text-anchor="middle">Mar</text>
<text x="1347.13" y="639.5" fill="#131722" text-anchor="middle">Apr</text>
<text x="1448.58" y="639.5" fill="#131722" text-anchor="middle">15</text>
<g transform="translate(12.8 663.8) scale(0.658)" fill="#131722"><path d="M14 22H7V11H0V4h14v18zM28 22h-8l7.5-18h8L28 22z"/><circle cx="20" cy="8" r="4"/></g>
<text x="40.9" y="678" fill="#131722" textLength="84" lengthAdjust="spacingAndGlyphs" font-size="15.5" stroke="#131722" stroke-width="0.15">TradingView</text>
</svg>
</body></html>
